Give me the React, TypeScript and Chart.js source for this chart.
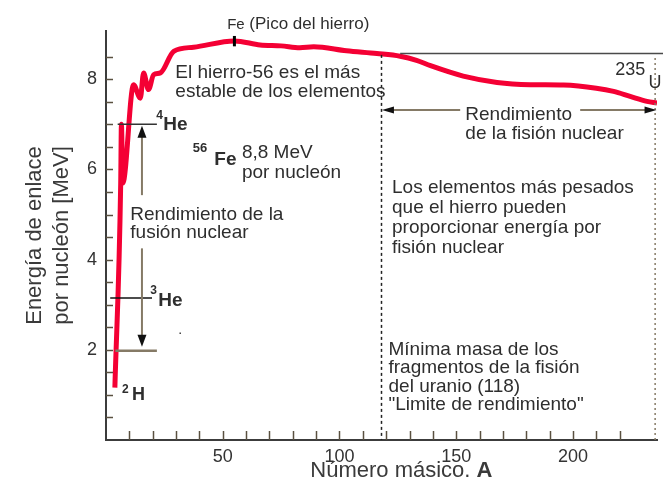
import React, { useEffect, useRef } from 'react';
import { Chart, registerables } from 'chart.js';

Chart.register(...registerables);

// ---- data ----
const massNumber = [3.8, 6.3, 6.6, 7.2, 11.8, 14.7, 16.1, 18.2, 20.4, 23.3, 29, 37.5, 55, 66, 75, 83, 89, 103, 116, 126, 133, 139, 153, 167.5, 181.7, 196, 210, 217.4, 224.5, 231.7, 236];
const bindingEnergy = [1.16, 5.7, 7.0, 5.7, 7.88, 7.58, 8.14, 7.77, 8.1, 8.14, 8.62, 8.71, 8.85, 8.76, 8.74, 8.7, 8.72, 8.63, 8.57, 8.51, 8.42, 8.3, 8.07, 7.93, 7.88, 7.87, 7.8, 7.73, 7.62, 7.51, 7.47];
const xTickLabels = [50, 100, 150, 200];
const yTickLabels = [2, 4, 6, 8];

const yTitle = ['Energía de enlace', 'por nucleón [MeV]'];
const xTitleMain = 'Número másico. ';
const xTitleBold = 'A';
const ironNote = ['El hierro-56 es el más', 'estable de los elementos'];
const fusionNote = ['Rendimiento de la', 'fusión nuclear'];
const fissionNote = ['Rendimiento', 'de la fisión nuclear'];
const heavyNote = ['Los elementos más pesados', 'que el hierro pueden', 'proporcionar energía por', 'fisión nuclear'];
const limitNote = ['Mínima masa de los', 'fragmentos de la fisión', 'del uranio (118)', '"Limite de rendimiento"'];
const fe56Note = ['8,8 MeV', 'por nucleón'];

const FONT = '"Liberation Sans", Arial, Helvetica, sans-serif';
const TXT = '#2e2e2e';
const BROWN = '#857a66';

const annotations = {
  id: 'annotations',
  afterDatasetsDraw(chart: any) {
    const { ctx, scales } = chart;
    const xs = scales.x;
    const ys = scales.y;
    const px = (a: number) => xs.getPixelForValue(a);
    const py = (e: number) => ys.getPixelForValue(e);
    ctx.save();

    const line = (a1: number, e1: number, a2: number, e2: number, color: string, width: number, dash: number[] = []) => {
      ctx.beginPath();
      ctx.setLineDash(dash);
      ctx.strokeStyle = color;
      ctx.lineWidth = width;
      ctx.moveTo(px(a1), py(e1));
      ctx.lineTo(px(a2), py(e2));
      ctx.stroke();
      ctx.setLineDash([]);
    };
    const head = (a: number, e: number, dir: 'up' | 'down' | 'left' | 'right', len: number, half: number) => {
      const x = px(a);
      const y = py(e);
      ctx.beginPath();
      ctx.fillStyle = '#111';
      if (dir === 'up') { ctx.moveTo(x, y); ctx.lineTo(x - half, y + len); ctx.lineTo(x + half, y + len); }
      if (dir === 'down') { ctx.moveTo(x, y); ctx.lineTo(x - half, y - len); ctx.lineTo(x + half, y - len); }
      if (dir === 'left') { ctx.moveTo(x, y); ctx.lineTo(x + len, y - half); ctx.lineTo(x + len, y + half); }
      if (dir === 'right') { ctx.moveTo(x, y); ctx.lineTo(x - len, y - half); ctx.lineTo(x - len, y + half); }
      ctx.closePath();
      ctx.fill();
    };
    const text = (s: string, a: number, e: number, font: string, align: CanvasTextAlign = 'left', color = TXT) => {
      ctx.font = font;
      ctx.fillStyle = color;
      ctx.textAlign = align;
      ctx.textBaseline = 'middle';
      ctx.fillText(s, px(a), py(e));
    };
    const lines = (arr: string[], a: number, e0: number, step: number, font: string) => {
      arr.forEach((s, i) => text(s, a, e0 - i * step, font));
    };

    // reference lines
    line(126, 8.57, 238.7, 8.57, '#4a4a4a', 1.5);
    line(118, 8.54, 118, 0, '#222', 1.5, [3, 3]);
    line(235.2, 8.47, 235.2, 0, BROWN, 1.5, [2, 3]);
    line(5.0, 7.0, 21.8, 7.0, '#333', 1.5);
    line(1.8, 3.15, 19.7, 3.15, '#111', 1.5);
    line(4.0, 1.98, 21.8, 1.98, BROWN, 2.5);

    // fusion arrows
    line(15.4, 5.43, 15.4, 6.8, BROWN, 2);
    head(15.4, 6.97, 'up', 12, 4.5);
    line(15.4, 4.25, 15.4, 2.3, BROWN, 2);
    head(15.4, 2.07, 'down', 12, 4.5);

    // fission double arrow
    line(121, 7.32, 151.7, 7.32, BROWN, 2);
    line(203.1, 7.32, 233, 7.32, BROWN, 2);
    head(118.2, 7.32, 'left', 12, 3.5);
    head(235.8, 7.32, 'right', 12, 3.5);

    // Fe peak marker
    line(55, 8.73, 55, 8.96, '#000', 3);

    // texts
    const N = `19px ${FONT}`;
    text('Fe', 51.9, 9.21, `15px ${FONT}`);
    text('(Pico del hierro)', 61.4, 9.21, `17px ${FONT}`);
    lines(ironNote, 29.7, 8.14, 0.41, N);
    text('4', 21.5, 7.2, `bold 12px ${FONT}`);
    text('He', 24.5, 6.98, `bold 19px ${FONT}`);
    text('56', 37.2, 6.47, `bold 13px ${FONT}`);
    text('Fe', 46.4, 6.21, `bold 19px ${FONT}`);
    lines(fe56Note, 58.2, 6.36, 0.44, N);
    lines(fusionNote, 10.4, 4.99, 0.4, N);
    text('3', 19.0, 3.31, `bold 12px ${FONT}`);
    text('He', 22.4, 3.09, `bold 19px ${FONT}`);
    text('.', 31.0, 2.42, `12px ${FONT}`, 'left', '#000');
    text('2', 6.85, 1.11, `bold 12px ${FONT}`);
    text('H', 11.1, 0.99, `bold 18px ${FONT}`);
    text('235', 218.1, 8.21, `18px ${FONT}`);
    text('U', 232.4, 7.91, `18px ${FONT}`);
    lines(fissionNote, 153.9, 7.21, 0.41, N);
    lines(heavyNote, 122.5, 5.585, 0.444, N);
    lines(limitNote, 121, 2.0, 0.407, N);

    ctx.restore();
  },
  afterDraw(chart: any) {
    const { ctx, scales } = chart;
    const xs = scales.x;
    const ys = scales.y;
    const x0 = xs.getPixelForValue(0);
    const y0 = ys.getPixelForValue(0);
    ctx.save();
    ctx.strokeStyle = '#5a5040';
    ctx.lineWidth = 1.5;
    xs.ticks.forEach((t: any) => {
      if (t.value <= 0 || Math.abs(t.value % 10) > 1e-6) return;
      const x = Math.round(xs.getPixelForValue(t.value)) + 0.5;
      ctx.beginPath();
      ctx.moveTo(x, y0);
      ctx.lineTo(x, y0 - 9);
      ctx.stroke();
    });
    ys.ticks.forEach((t: any) => {
      if (t.value <= 0 || Math.abs(t.value % 0.5) > 1e-6) return;
      const y = Math.round(ys.getPixelForValue(t.value)) + 0.5;
      ctx.beginPath();
      ctx.moveTo(x0, y);
      ctx.lineTo(x0 + 7, y);
      ctx.stroke();
    });
    // x axis title (mixed weight)
    ctx.textBaseline = 'middle';
    ctx.fillStyle = '#3a3a3a';
    ctx.font = `22px ${FONT}`;
    const w1 = ctx.measureText(xTitleMain).width;
    ctx.font = `bold 22px ${FONT}`;
    const w2 = ctx.measureText(xTitleBold).width;
    const cx = xs.getPixelForValue(126.5);
    const startX = cx - (w1 + w2) / 2;
    const ty = y0 + 31;
    ctx.textAlign = 'left';
    ctx.font = `22px ${FONT}`;
    ctx.fillText(xTitleMain, startX, ty);
    ctx.font = `bold 22px ${FONT}`;
    ctx.fillText(xTitleBold, startX + w1, ty);
    ctx.restore();
  },
};

export default function App() {
  const ref = useRef<HTMLCanvasElement | null>(null);
  useEffect(() => {
    if (!ref.current) return;
    const chart = new Chart(ref.current, {
      type: 'line',
      data: {
        datasets: [
          {
            data: massNumber.map((a, i) => ({ x: a, y: bindingEnergy[i] })),
            borderColor: 'rgb(244, 0, 52)',
            borderWidth: 5,
            pointRadius: 0,
            cubicInterpolationMode: 'monotone',
            borderJoinStyle: 'round',
            fill: false,
          },
        ],
      },
      options: {
        animation: false,
        responsive: false,
        layout: { padding: { top: 31, right: 6, left: 0, bottom: 0 } },
        plugins: { legend: { display: false }, tooltip: { enabled: false } },
        scales: {
          x: {
            type: 'linear',
            min: 0,
            max: 236,
            grid: { display: false, drawTicks: false },
            border: { display: true, color: '#3c3c3c', width: 2 },
            ticks: {
              stepSize: 10,
              autoSkip: false,
              maxRotation: 0,
              padding: 6,
              color: '#333',
              font: { size: 18, family: FONT },
              callback: (v: any) => (xTickLabels.includes(Number(v)) ? String(v) : ''),
            },
            afterFit: (s: any) => { s.height = 41; },
          },
          y: {
            type: 'linear',
            min: 0,
            max: 9.07,
            grid: { display: false, drawTicks: false },
            border: { display: true, color: '#3c3c3c', width: 2 },
            ticks: {
              stepSize: 0.5,
              autoSkip: false,
              padding: 9,
              color: '#333',
              font: { size: 18, family: FONT },
              callback: (v: any) => (yTickLabels.includes(Number(v)) ? String(v) : ''),
            },
            title: {
              display: true,
              text: yTitle,
              color: '#3a3a3a',
              font: { size: 22, family: FONT },
              padding: { top: 22, bottom: 0 },
            },
            afterFit: (s: any) => { s.width = 106; },
          },
        },
      },
      plugins: [annotations],
    });
    return () => chart.destroy();
  }, []);
  return (
    <div style={{ position: 'fixed', left: 0, top: 0, width: 663, height: 481, background: '#fff' }}>
      <canvas ref={ref} width={663} height={481} style={{ display: 'block' }} />
    </div>
  );
}
